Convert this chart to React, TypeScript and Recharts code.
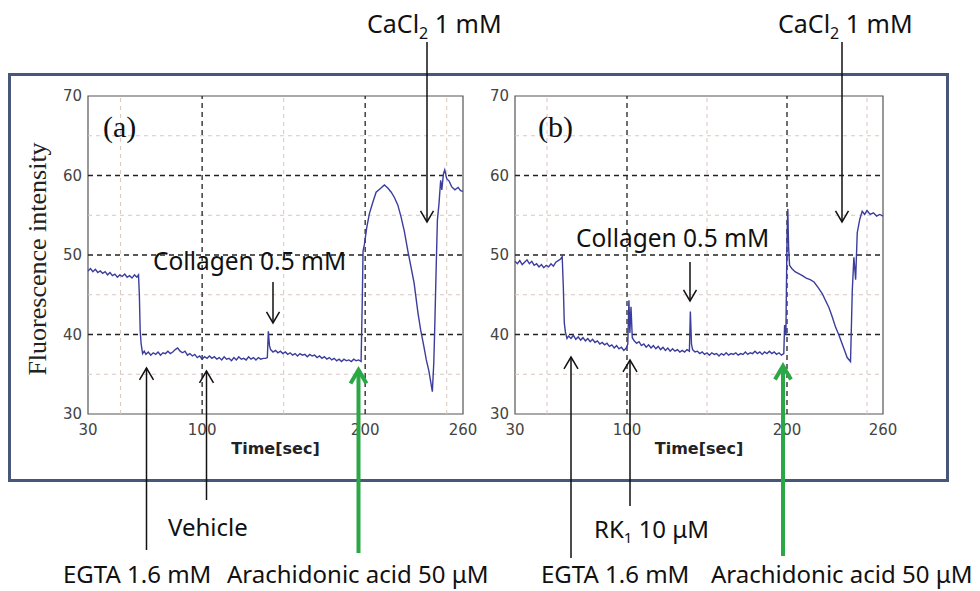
import React from 'react'
import { LineChart, Line, XAxis, YAxis, ReferenceLine, ReferenceArea } from 'recharts'

// axis ticks and grid positions
const xTicks = [30, 100, 200, 260]
const yTicks = [30, 40, 50, 60, 70]
const majorX = [100, 200]
const minorX = [50, 150, 250]
const majorY = [40, 50, 60]
const minorY = [35, 45, 55, 65]

// (a) vehicle trace: [time sec, fluorescence]
const traceA: [number, number][] = [
  [30, 48.0], [31.5, 48.3], [33, 47.9], [34.5, 48.2], [36, 47.8], [37.5, 48.0], [39, 47.7], [40.5, 47.9],
  [42, 47.5], [43.5, 47.8], [45, 47.4], [46.5, 47.6], [48, 47.2], [49.5, 47.5], [51, 47.3], [52.5, 47.6],
  [54, 47.2], [55.5, 47.4], [57, 47.1], [58.5, 47.5], [60, 47.2], [61, 47.5], [61.5, 45.0], [62, 40.5],
  [62.6, 38.8], [63.5, 37.6], [64.5, 37.9], [65.5, 37.5], [67, 37.8], [68.5, 37.4], [70, 37.7], [71.5, 37.5],
  [73, 37.8], [74.5, 37.4], [76, 37.7], [77.5, 37.6], [79, 37.9], [80.5, 37.6], [82, 37.8], [83.5, 38.1],
  [85, 38.3], [86.5, 37.9], [88, 37.7], [89.5, 37.9], [91, 37.4], [92.5, 37.6], [94, 37.3], [95.5, 37.5],
  [97, 37.1], [98.5, 37.3], [100, 36.9], [101.5, 37.2], [103, 37.0], [104.5, 37.3], [106, 37.0], [107.5, 37.2],
  [109, 36.9], [110.5, 37.1], [112, 36.8], [113.5, 37.2], [115, 36.9], [116.5, 37.0], [118, 36.7], [119.5, 37.1],
  [121, 36.8], [122.5, 37.2], [124, 36.9], [125.5, 37.0], [127, 36.8], [128.5, 37.2], [130, 36.9], [131.5, 37.1],
  [133, 36.8], [134.5, 37.1], [136, 36.9], [137.5, 37.0], [139, 37.0], [140, 37.1], [140.6, 40.4], [141.3, 38.6],
  [142, 38.1], [143.5, 37.8], [145, 38.0], [146.5, 37.7], [148, 37.9], [149.5, 37.6], [151, 37.8], [152.5, 37.5],
  [154, 37.7], [155.5, 37.4], [157, 37.6], [158.5, 37.3], [160, 37.6], [161.5, 37.4], [163, 37.5], [164.5, 37.2],
  [166, 37.5], [167.5, 37.3], [169, 37.4], [170.5, 37.1], [172, 37.3], [173.5, 37.0], [175, 37.2], [176.5, 36.9],
  [178, 37.1], [179.5, 36.8], [181, 37.0], [182.5, 36.7], [184, 36.9], [185.5, 36.6], [187, 36.9], [188.5, 36.7],
  [190, 36.8], [191.5, 36.6], [193, 36.9], [194.5, 36.7], [196, 36.8], [197.5, 36.6], [198.2, 44.0], [198.7, 50.5],
  [199.5, 51.3], [201, 53.5], [202.6, 55.2], [204.5, 56.5], [206.7, 57.9], [209, 58.3], [211.8, 58.8], [214, 58.4],
  [216, 57.9], [218, 57.2], [220, 56.3], [222, 54.8], [224, 53.0], [226.2, 50.5], [228, 48.6], [230, 46.5],
  [232.4, 42.7], [234, 40.6], [236, 38.5], [237.5, 36.8], [239, 35.5], [240, 34.3], [241.2, 32.8], [242.1, 36.5],
  [242.6, 40.3], [243.5, 48.0], [244.3, 54.4], [245.3, 56.5], [246.3, 59.4], [247, 58.2], [248, 60.2], [248.8, 60.7],
  [250, 59.6], [251.5, 59.3], [253, 58.6], [255, 58.2], [257, 58.5], [258.5, 58.1], [260, 58.0],
]

// (b) RK1 trace
const traceB: [number, number][] = [
  [30, 49.2], [31.5, 48.9], [33, 49.3], [34.5, 48.8], [36, 49.1], [37.5, 49.4], [39, 48.9], [40.5, 49.2],
  [42, 48.7], [43.5, 48.9], [45, 48.5], [46.5, 48.8], [48, 48.4], [49.5, 48.7], [51, 48.5], [52.5, 48.9],
  [54, 48.6], [55.5, 49.1], [57, 49.3], [58.5, 49.5], [59.5, 49.8], [60.2, 46.0], [60.8, 41.5], [61.5, 40.3],
  [62.5, 39.5], [63.5, 39.8], [65, 39.5], [66.5, 39.9], [68, 39.4], [69.5, 39.7], [71, 39.3], [72.5, 39.6],
  [74, 39.2], [75.5, 39.5], [77, 39.1], [78.5, 39.4], [80, 39.0], [81.5, 39.2], [83, 38.8], [84.5, 39.0],
  [86, 38.7], [87.5, 38.9], [89, 38.5], [90.5, 38.7], [92, 38.3], [93.5, 38.6], [95, 38.2], [96.5, 38.4],
  [98, 38.0], [99.5, 38.3], [100.5, 38.8], [101.2, 44.3], [101.8, 40.2], [102.5, 43.5], [103.3, 39.6], [104.5, 39.2],
  [106, 38.9], [107.5, 39.1], [109, 38.6], [110.5, 38.8], [112, 38.4], [113.5, 38.7], [115, 38.3], [116.5, 38.6],
  [118, 38.2], [119.5, 38.5], [121, 38.1], [122.5, 38.4], [124, 38.0], [125.5, 38.3], [127, 37.9], [128.5, 38.2],
  [130, 37.9], [131.5, 38.1], [133, 37.8], [134.5, 38.0], [136, 37.8], [137.5, 38.1], [139, 37.9], [139.6, 42.9],
  [140.3, 38.8], [141, 38.1], [142.5, 37.8], [144, 37.9], [145.5, 37.6], [147, 37.8], [148.5, 37.5], [150, 37.7],
  [151.5, 37.4], [153, 37.7], [154.5, 37.5], [156, 37.6], [157.5, 37.3], [159, 37.6], [160.5, 37.4], [162, 37.7],
  [163.5, 37.4], [165, 37.6], [166.5, 37.5], [168, 37.7], [169.5, 37.4], [171, 37.6], [172.5, 37.5], [174, 37.8],
  [175.5, 37.5], [177, 37.7], [178.5, 37.6], [180, 37.9], [181.5, 37.6], [183, 37.8], [184.5, 37.5], [186, 37.8],
  [187.5, 37.6], [189, 37.9], [190.5, 37.6], [192, 37.8], [193.5, 37.5], [195, 37.7], [196.5, 37.4], [198, 37.6],
  [198.5, 41.2], [199.3, 40.0], [200, 52.0], [200.5, 55.8], [201, 51.0], [201.6, 48.7], [203, 48.3], [205, 47.9],
  [207, 47.7], [209.6, 47.4], [212, 47.1], [214.5, 46.9], [216.9, 46.6], [219.5, 45.9], [222.1, 45.1], [224, 44.3],
  [226.2, 43.4], [228.3, 42.2], [230.4, 40.9], [232.5, 39.9], [234.5, 38.8], [236, 38.0], [237.6, 37.1], [239.7, 36.6],
  [240.8, 45.5], [241.8, 49.7], [242.9, 46.9], [243.9, 52.8], [245.5, 54.5], [247, 55.5], [248.5, 55.1], [250, 55.6],
  [252, 55.1], [254, 55.3], [256, 54.9], [258, 55.1], [260, 54.9],
]

const toRows = (trace: [number, number][]) => trace.map(([t, v]) => ({ t, v }))

const tickStyle = { fontFamily: 'DejaVu Sans', fontSize: 15, fill: '#444' }
const sans = 'Noto Sans'

interface PanelProps {
  trace: [number, number][]
  left: number
  width: number
  marginLeft: number
  marginRight: number
  yLabel?: string
}

function Panel({ trace, left, width, marginLeft, marginRight, yLabel }: PanelProps) {
  return (
    <div style={{ position: 'absolute', left, top: 0 }}>
      <LineChart
        width={width}
        height={470}
        data={toRows(trace)}
        margin={{ top: 96, right: marginRight, bottom: 12, left: marginLeft }}
      >
        {minorX.map((x) => (
          <ReferenceLine key={'nx' + x} x={x} stroke="#d8c6be" strokeDasharray="4 4" />
        ))}
        {minorY.map((y) => (
          <ReferenceLine key={'ny' + y} y={y} stroke="#d8c6be" strokeDasharray="4 4" />
        ))}
        {majorX.map((x) => (
          <ReferenceLine key={'jx' + x} x={x} stroke="#222" strokeWidth={1.3} strokeDasharray="5 4" />
        ))}
        {majorY.map((y) => (
          <ReferenceLine key={'jy' + y} y={y} stroke="#222" strokeWidth={1.3} strokeDasharray="5 4" />
        ))}
        <XAxis
          dataKey="t"
          type="number"
          domain={[30, 260]}
          ticks={xTicks}
          interval={0}
          height={44}
          tickSize={6}
          tickMargin={4}
          tickLine={false}
          axisLine={false}
          tick={tickStyle}
          label={{
            value: 'Time[sec]',
            position: 'insideBottom',
            offset: 4,
            style: { fontFamily: 'DejaVu Sans', fontWeight: 'bold', fontSize: 16, fill: '#222' },
          }}
        />
        <YAxis
          type="number"
          domain={[30, 70]}
          ticks={yTicks}
          interval={0}
          width={60}
          tickSize={4}
          tickMargin={2}
          tickLine={false}
          axisLine={false}
          tick={tickStyle}
          label={
            yLabel
              ? {
                  value: yLabel,
                  angle: -90,
                  position: 'insideLeft',
                  offset: 9,
                  dy: 4,
                  style: { textAnchor: 'middle', fontFamily: 'Liberation Serif', fontSize: 26, fill: '#222' },
                }
              : undefined
          }
        />
        <ReferenceArea x1={30} x2={260} y1={30} y2={70} fill="none" stroke="#555" strokeWidth={1.2} />
        <Line
          type="linear"
          dataKey="v"
          stroke="#3b3d9c"
          strokeWidth={1.4}
          dot={false}
          isAnimationActive={false}
        />
      </LineChart>
    </div>
  )
}

function Arrow({ x, from, to, color = '#111', w = 1.5, head = 7 }: { x: number; from: number; to: number; color?: string; w?: number; head?: number }) {
  const dir = to > from ? -1 : 1
  const len = head * 1.7
  return (
    <g stroke={color} strokeWidth={w} fill="none">
      <line x1={x} y1={from} x2={x} y2={to} />
      <polyline points={`${x - head},${to + dir * len} ${x},${to} ${x + head},${to + dir * len}`} />
    </g>
  )
}

function Notes() {
  return (
    <svg width={980} height={591} style={{ position: 'absolute', left: 0, top: 0, pointerEvents: 'none' }}>
      <rect x={9.5} y={74.5} width={938} height={406} fill="none" stroke="#46577a" strokeWidth={3} />

      <g fontFamily={sans} fill="#111">
        <text x={367} y={33} fontSize={25}>
          CaCl<tspan fontSize={16} dy={6}>2</tspan><tspan dy={-6}> 1 mM</tspan>
        </text>
        <text x={778} y={33} fontSize={25}>
          CaCl<tspan fontSize={16} dy={6}>2</tspan><tspan dy={-6}> 1 mM</tspan>
        </text>
        <text x={153} y={270} fontSize={24.5}>Collagen 0.5 mM</text>
        <text x={576} y={247} fontSize={24.5}>Collagen 0.5 mM</text>

        <text x={168} y={536} fontSize={24}>Vehicle</text>
        <text x={63} y={583} fontSize={24}>EGTA 1.6 mM</text>
        <text x={227} y={583} fontSize={24}>Arachidonic acid 50 μM</text>

        <text x={594} y={538} fontSize={24}>
          RK<tspan fontSize={15} dy={5}>1</tspan><tspan dy={-5}> 10 μM</tspan>
        </text>
        <text x={541} y={583} fontSize={24}>EGTA 1.6 mM</text>
        <text x={711} y={583} fontSize={24}>Arachidonic acid 50 μM</text>
      </g>

      <g fontFamily="Liberation Serif" fontSize={30} fill="#111">
        <text x={103} y={137}>(a)</text>
        <text x={538} y={137}>(b)</text>
      </g>

      <Arrow x={427} from={42} to={222} head={6.5} />
      <Arrow x={273} from={282} to={323} head={6.5} />
      <Arrow x={146.5} from={550} to={368} />
      <Arrow x={206.5} from={500} to={371} />
      <Arrow x={358.5} from={553} to={370} color="#2aa845" w={4} head={8} />

      <Arrow x={842} from={42} to={222} head={6.5} />
      <Arrow x={690} from={262} to={301} head={6.5} />
      <Arrow x={571} from={558} to={357} />
      <Arrow x={630} from={506} to={360} />
      <Arrow x={783} from={556} to={366} color="#2aa845" w={4} head={8} />
    </svg>
  )
}

export default function App() {
  return (
    <div style={{ position: 'absolute', left: 0, top: 0, width: 980, height: 591, background: '#fff' }}>
      <Panel trace={traceA} left={0} width={490} marginLeft={28} marginRight={27} yLabel="Fluorescence intensity" />
      <Panel trace={traceB} left={440} width={460} marginLeft={15} marginRight={17} />
      <Notes />
    </div>
  )
}
